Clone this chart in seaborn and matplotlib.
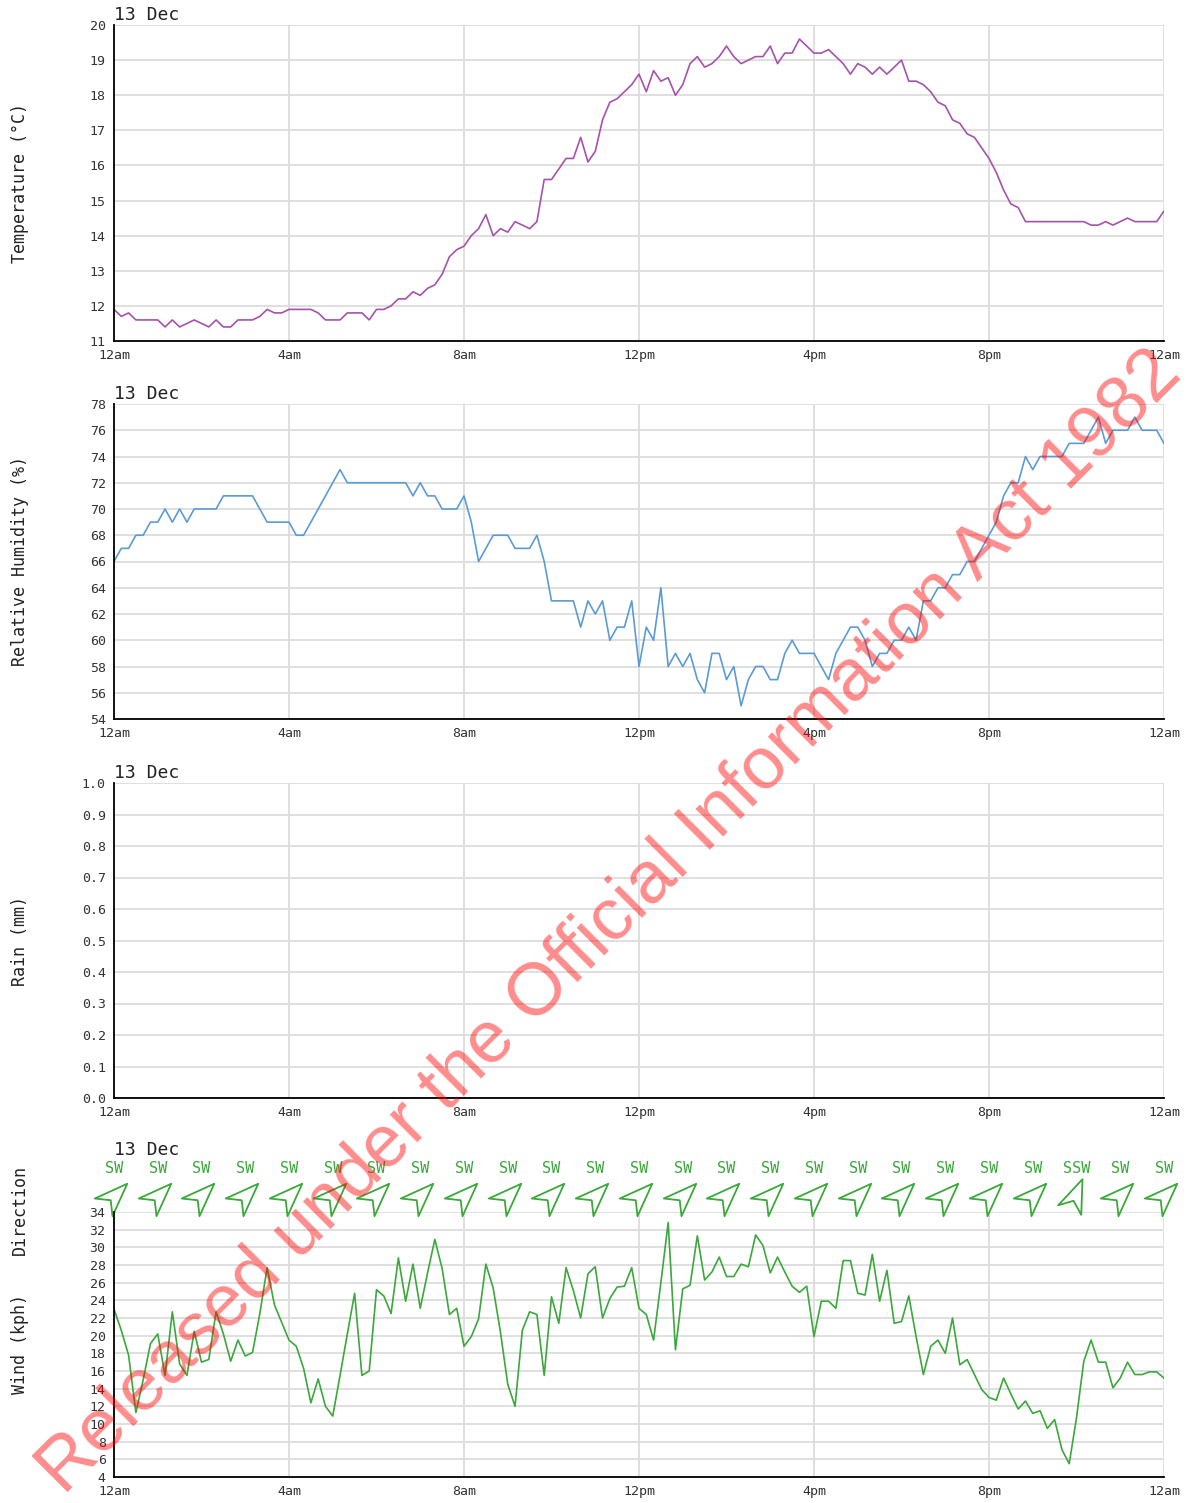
import numpy as np
import pandas as pd
import matplotlib
matplotlib.use("Agg")
import matplotlib.pyplot as plt
import matplotlib.transforms as mtransforms
from matplotlib.path import Path
from matplotlib.markers import MarkerStyle
from matplotlib.ticker import FormatStrFormatter
import seaborn as sns

# 10-minute readings for 13 Dec, 12am to 12am (145 samples)
temperature_c = [
    11.9, 11.7, 11.8, 11.6, 11.6, 11.6, 11.6, 11.4, 11.6, 11.4,
    11.5, 11.6, 11.5, 11.4, 11.6, 11.4, 11.4, 11.6, 11.6, 11.6,
    11.7, 11.9, 11.8, 11.8, 11.9, 11.9, 11.9, 11.9, 11.8, 11.6,
    11.6, 11.6, 11.8, 11.8, 11.8, 11.6, 11.9, 11.9, 12.0, 12.2,
    12.2, 12.4, 12.3, 12.5, 12.6, 12.9, 13.4, 13.6, 13.7, 14.0,
    14.2, 14.6, 14.0, 14.2, 14.1, 14.4, 14.3, 14.2, 14.4, 15.6,
    15.6, 15.9, 16.2, 16.2, 16.8, 16.1, 16.4, 17.3, 17.8, 17.9,
    18.1, 18.3, 18.6, 18.1, 18.7, 18.4, 18.5, 18.0, 18.3, 18.9,
    19.1, 18.8, 18.9, 19.1, 19.4, 19.1, 18.9, 19.0, 19.1, 19.1,
    19.4, 18.9, 19.2, 19.2, 19.6, 19.4, 19.2, 19.2, 19.3, 19.1,
    18.9, 18.6, 18.9, 18.8, 18.6, 18.8, 18.6, 18.8, 19.0, 18.4,
    18.4, 18.3, 18.1, 17.8, 17.7, 17.3, 17.2, 16.9, 16.8, 16.5,
    16.2, 15.8, 15.3, 14.9, 14.8, 14.4, 14.4, 14.4, 14.4, 14.4,
    14.4, 14.4, 14.4, 14.4, 14.3, 14.3, 14.4, 14.3, 14.4, 14.5,
    14.4, 14.4, 14.4, 14.4, 14.7,
]

humidity_pct = [
    66, 67, 67, 68, 68, 69, 69, 70, 69, 70,
    69, 70, 70, 70, 70, 71, 71, 71, 71, 71,
    70, 69, 69, 69, 69, 68, 68, 69, 70, 71,
    72, 73, 72, 72, 72, 72, 72, 72, 72, 72,
    72, 71, 72, 71, 71, 70, 70, 70, 71, 69,
    66, 67, 68, 68, 68, 67, 67, 67, 68, 66,
    63, 63, 63, 63, 61, 63, 62, 63, 60, 61,
    61, 63, 58, 61, 60, 64, 58, 59, 58, 59,
    57, 56, 59, 59, 57, 58, 55, 57, 58, 58,
    57, 57, 59, 60, 59, 59, 59, 58, 57, 59,
    60, 61, 61, 60, 58, 59, 59, 60, 60, 61,
    60, 63, 63, 64, 64, 65, 65, 66, 66, 67,
    68, 69, 71, 72, 72, 74, 73, 74, 74, 74,
    74, 75, 75, 75, 76, 77, 75, 76, 76, 76,
    77, 76, 76, 76, 75,
]

rain_mm = [0.0] * 145

wind_kph = [
    23.0, 20.6, 17.8, 11.3, 15.0, 19.1, 20.2, 15.5, 22.7, 16.8,
    15.5, 20.5, 17.0, 17.3, 22.7, 20.2, 17.1, 19.5, 17.7, 18.1,
    22.5, 27.7, 23.5, 21.5, 19.5, 18.8, 16.3, 12.4, 15.1, 12.0,
    10.9, 15.5, 20.2, 24.8, 15.5, 16.0, 25.2, 24.5, 22.5, 28.8,
    23.9, 28.1, 23.1, 27.1, 30.9, 27.6, 22.4, 23.1, 18.8, 19.9,
    21.9, 28.1, 25.4, 20.4, 14.5, 12.0, 20.6, 22.7, 22.4, 15.5,
    24.4, 21.4, 27.7, 25.1, 22.0, 27.0, 27.8, 22.0, 24.2, 25.5,
    25.6, 27.7, 23.1, 22.4, 19.5, 26.0, 32.8, 18.4, 25.3, 25.7,
    31.3, 26.3, 27.2, 28.9, 26.7, 26.7, 28.1, 27.8, 31.4, 30.2,
    27.1, 28.9, 27.2, 25.6, 24.9, 25.6, 19.9, 23.9, 23.9, 23.1,
    28.5, 28.5, 24.8, 24.6, 29.2, 23.9, 27.4, 21.4, 21.6, 24.5,
    19.9, 15.6, 18.8, 19.5, 18.0, 22.0, 16.7, 17.3, 15.6, 13.9,
    13.0, 12.7, 15.2, 13.4, 11.7, 12.6, 11.2, 11.5, 9.5, 10.5,
    7.1, 5.5, 10.7, 17.1, 19.5, 17.0, 17.0, 14.1, 15.2, 17.0,
    15.6, 15.6, 15.9, 15.9, 15.2,
]

# hourly wind direction, 12am .. 12am
wind_dir = [
    "SW", "SW", "SW", "SW", "SW", "SW", "SW", "SW", "SW", "SW",
    "SW", "SW", "SW", "SW", "SW", "SW", "SW", "SW", "SW", "SW",
    "SW", "SW", "SSW", "SW", "SW",
]
dir_hours = list(range(25))

hours = np.arange(len(temperature_c)) / 6.0
tick_hours = [0, 4, 8, 12, 16, 20, 24]
tick_labels = ["12am", "4am", "8am", "12pm", "4pm", "8pm", "12am"]
date_label = "13 Dec"

compass = ["N", "NNE", "NE", "ENE", "E", "ESE", "SE", "SSE",
           "S", "SSW", "SW", "WSW", "W", "WNW", "NW", "NNW"]

sns.set_style("white")
plt.rcParams["font.family"] = ["DejaVu Sans Mono"]

W, H = 1190, 1503
fig = plt.figure(figsize=(W / 100, H / 100), dpi=100)

PURPLE = "#a652ad"
BLUE = "#5b9bd5"
GREEN = "#3aa83a"
GRID = "#dcdcdc"


def make_axes(top, bottom):
    return fig.add_axes([114 / W, 1 - bottom / H, 1050 / W, (bottom - top) / H])


def style(ax, ylim, yticks, ylabel):
    ax.set_xlim(0, 24)
    ax.set_ylim(*ylim)
    ax.set_xticks(tick_hours)
    ax.set_xticklabels(tick_labels)
    ax.set_yticks(yticks)
    ax.grid(True, color=GRID, lw=1.3)
    ax.set_axisbelow(True)
    for s in ["top", "right"]:
        ax.spines[s].set_visible(False)
    for s in ["left", "bottom"]:
        ax.spines[s].set_color("black")
        ax.spines[s].set_linewidth(1.3)
    ax.tick_params(axis="both", direction="out", length=5, width=1,
                   color="black", labelsize=9.5, labelcolor="#333333", pad=1)
    ax.set_xlabel("")
    ax.set_ylabel(ylabel, fontsize=12, color="#222222")
    ax.yaxis.set_label_coords(-(114 - 29) / 1050, 0.5)


def date_text(ax, y):
    ax.text(0, y, date_label, transform=ax.transAxes, ha="left", va="bottom",
            fontsize=13, color="#222222", clip_on=False)


# Temperature
ax1 = make_axes(25, 341)
df = pd.DataFrame({"hour": hours, "value": temperature_c})
sns.lineplot(data=df, x="hour", y="value", ax=ax1, color=PURPLE, lw=1.2)
style(ax1, (11, 20), range(11, 21), "Temperature (°C)")
date_text(ax1, 1.003)

# Humidity
ax2 = make_axes(404, 719)
df = pd.DataFrame({"hour": hours, "value": humidity_pct})
sns.lineplot(data=df, x="hour", y="value", ax=ax2, color=BLUE, lw=1.2)
style(ax2, (54, 78), range(54, 79, 2), "Relative Humidity (%)")
date_text(ax2, 1.003)

# Rain
ax3 = make_axes(783, 1098)
df = pd.DataFrame({"hour": hours, "value": rain_mm})
sns.lineplot(data=df, x="hour", y="value", ax=ax3, color=BLUE, lw=1.2)
style(ax3, (0, 1), np.linspace(0, 1, 11), "Rain (mm)")
ax3.yaxis.set_major_formatter(FormatStrFormatter("%.1f"))
date_text(ax3, 1.003)

# Wind
ax4 = make_axes(1212, 1477)
df = pd.DataFrame({"hour": hours, "value": wind_kph})
sns.lineplot(data=df, x="hour", y="value", ax=ax4, color=GREEN, lw=1.2)
style(ax4, (4, 34), range(4, 35, 2), "Wind (kph)")
ax4.text(0, 1.2, date_label, transform=ax4.transAxes, ha="left", va="bottom",
         fontsize=13, color="#222222", clip_on=False)

# direction arrows and labels above the wind panel
up_arrow = Path([(0, 1), (0.6, -0.6), (0, -0.12), (-0.6, -0.6), (0, 1)],
                [Path.MOVETO, Path.LINETO, Path.LINETO, Path.LINETO, Path.CLOSEPOLY])
blend = mtransforms.blended_transform_factory(ax4.transData, ax4.transAxes)
for h, d in zip(dir_hours, wind_dir):
    bearing = (compass.index(d) * 22.5 + 180) % 360
    mk = MarkerStyle(up_arrow, transform=mtransforms.Affine2D().rotate_deg(-bearing))
    ax4.plot([h - 0.05], [1.053], marker=mk, markersize=30, ls="none",
             mfc="white", mec=GREEN, mew=1.3, transform=blend, clip_on=False)
    ax4.text(h, 1.166, d, transform=blend, ha="center", va="center",
             fontsize=11, color=GREEN, clip_on=False)

fig.text(20 / W, 1 - 1210 / H, "Direction", rotation=90, ha="center",
         va="center", fontsize=12, color="#222222")

# watermark
fig.text(0.5126, 0.3866, "Released under the Official Information Act 1982",
         family=["Liberation Sans", "DejaVu Sans"], fontsize=53, color="red",
         alpha=0.45, rotation=45, ha="center", va="center",
         rotation_mode="anchor")

fig.savefig("out.png", dpi=100)
